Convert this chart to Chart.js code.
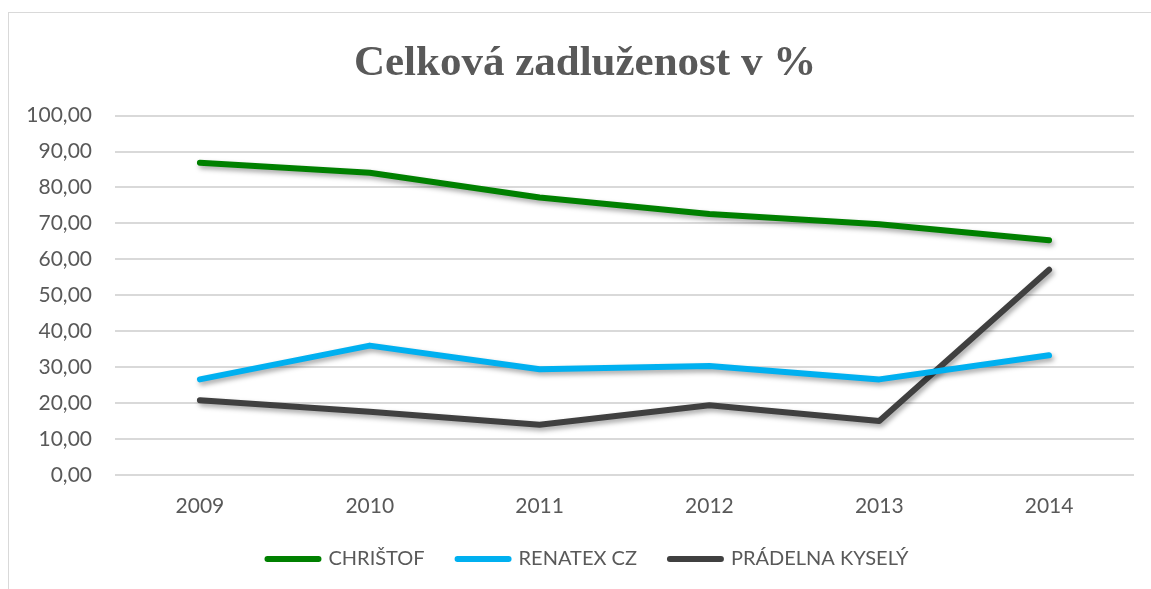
<!DOCTYPE html>
<html>
<head>
<meta charset="utf-8">
<script src="https://cdn.jsdelivr.net/npm/chart.js@4"></script>
<style>
    body { margin: 0; background: #fff; }
    #chartcanvas { display: block; }
</style>
</head>
<body>
<canvas id="chartcanvas" width="1151" height="589"></canvas>
<script>
var years = ['2009', '2010', '2011', '2012', '2013', '2014'];
var christof = [86.9, 84.1, 77.2, 72.6, 69.8, 65.3];
var renatex = [26.6, 36.0, 29.4, 30.3, 26.6, 33.3];
var pradelna = [20.8, 17.6, 14.0, 19.4, 15.0, 57.1];
var seriesNames = ['CHRIŠTOF', 'RENATEX CZ', 'PRÁDELNA KYSELÝ'];
var seriesColors = ['#008000', '#00b0f0', '#404040'];

var textColor = '#595959';
var bodyFont = 'Lato, "Open Sans", sans-serif';

// frame round the whole chart (right/bottom edge fall outside the window)
const framePlugin = {
    id: 'frame',
    beforeDraw: (chart) => {
        const {ctx} = chart;
        ctx.save();
        ctx.fillStyle = '#fff';
        ctx.fillRect(0, 0, chart.width, chart.height);
        ctx.strokeStyle = '#d9d9d9';
        ctx.lineWidth = 1;
        ctx.strokeRect(8.5, 12.5, 2000, 2000);
        ctx.restore();
    },
    afterLayout: (chart) => {
        // title and legend in the original sit a bit right of centre
        chart.legend.left += 21;
        chart.legend.right += 21;
        chart.titleBlock.left += 18;
        chart.titleBlock.right += 18;
    }
};

// soft drop shadow under the lines, like the office chart
const shadowPlugin = {
    id: 'lineShadow',
    beforeDatasetsDraw: (chart) => {
        const {ctx} = chart;
        ctx.save();
        ctx.shadowColor = 'rgba(0,0,0,0.35)';
        ctx.shadowBlur = 5;
        ctx.shadowOffsetX = 2;
        ctx.shadowOffsetY = 3;
    },
    afterDatasetsDraw: (chart) => {
        chart.ctx.restore();
    }
};

function makeSet(i, values) {
    return {
        label: seriesNames[i],
        data: values,
        borderColor: seriesColors[i],
        backgroundColor: seriesColors[i],
        borderWidth: 6,
        borderCapStyle: 'round',
        borderJoinStyle: 'round',
        pointRadius: 0,
        pointHoverRadius: 0,
        pointStyle: 'line',
        tension: 0,
    };
}

let ctx = document.getElementById('chartcanvas');
new Chart(ctx, {
    type: 'line',
    data: {
        labels: years,
        datasets: [
            makeSet(0, christof),
            makeSet(1, renatex),
            makeSet(2, pradelna),
        ],
    },
    options: {
        responsive: false,
        animation: false,
        layout: {
            padding: { left: 0, right: 17, top: 0, bottom: 10 },
        },
        plugins: {
            title: {
                display: true,
                text: 'Celková zadluženost v %',
                color: textColor,
                font: { family: '"Liberation Serif", "Times New Roman", serif', size: 43, weight: 'bold', lineHeight: 1.2 },
                padding: { top: 38, bottom: 26 },
            },
            legend: {
                position: 'bottom',
                labels: {
                    color: textColor,
                    font: { family: bodyFont, size: 20 },
                    usePointStyle: true,
                    pointStyle: 'line',
                    pointStyleWidth: 51,
                    padding: 33,
                    generateLabels: function(chart) {
                        let items = Chart.defaults.plugins.legend.labels.generateLabels(chart);
                        items.forEach(function(it) { it.lineCap = 'round'; it.lineWidth = 6; });
                        return items;
                    },
                },
            },
            tooltip: { enabled: false },
        },
        scales: {
            x: {
                offset: true,
                grid: { display: false, drawTicks: false },
                border: { display: false },
                ticks: {
                    color: textColor,
                    font: { family: bodyFont, size: 21 },
                    padding: 19,
                },
                afterFit: function(scale) { scale.height = 41; },
            },
            y: {
                min: 0,
                max: 100,
                grid: { color: '#d9d9d9', lineWidth: 2, drawTicks: false },
                border: { display: false },
                ticks: {
                    stepSize: 10,
                    color: textColor,
                    font: { family: bodyFont, size: 21 },
                    padding: 23,
                    callback: function(v) { return v.toFixed(2).replace('.', ','); },
                },
                afterFit: function(scale) { scale.width = 115; },
            },
        },
    },
    plugins: [framePlugin, shadowPlugin],
});
</script>
</body>
</html>
